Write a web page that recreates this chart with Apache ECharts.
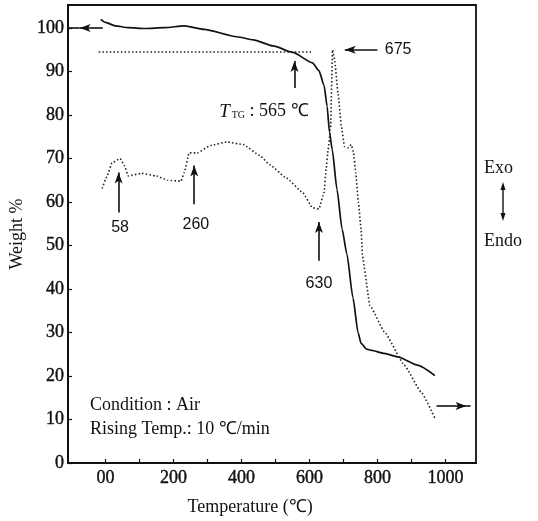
<!DOCTYPE html>
<html><head><meta charset="utf-8">
<script src="https://cdn.jsdelivr.net/npm/echarts@6/dist/echarts.min.js"></script>
<style>html,body{margin:0;padding:0;background:#fff}#c{width:538px;height:521px}</style>
</head><body><div id="c"></div>
<script>
// ---- data ----
const tgTemp = [-14, 0, 29, 67, 116, 174, 232, 290, 386, 435, 493, 551, 609, 628, 643, 652, 659, 667, 681, 696, 710, 728, 743, 752, 768, 783, 820, 860, 918, 969];
const tgWeight = [102.0, 101.3, 100.5, 100.1, 99.9, 100.1, 100.5, 99.7, 98.0, 97.3, 95.9, 94.4, 92.0, 90.2, 86.8, 82.0, 76.0, 72.1, 62.9, 53.8, 48.1, 38.0, 30.0, 27.5, 26.2, 25.9, 25.2, 24.4, 22.5, 20.1];
const dtaTemp = [-10, 5, 19, 43, 56, 67, 106, 150, 183, 222, 232, 246, 270, 309, 357, 406, 454, 483, 531, 580, 609, 628, 643, 649, 655, 662, 668, 674, 684, 694, 703, 715, 723, 730, 736, 744, 752, 756, 778, 821, 879, 928, 969];
const dtaSignal = [63.1, 66.0, 69.0, 70.0, 68.3, 66.0, 66.6, 66.0, 65.0, 64.8, 66.8, 71.3, 71.3, 73.0, 73.8, 73.2, 70.7, 68.6, 65.6, 62.2, 58.7, 58.4, 62.2, 67.5, 72.1, 76.7, 95.0, 92.7, 85.1, 77.4, 72.8, 72.5, 73.2, 71.3, 66.8, 59.9, 53.8, 47.5, 36.2, 30.1, 22.5, 16.4, 10.3];
const baselineTemp = [-20, 609];
const baselineLevel = [94.5, 94.5];
const xLabelValues = [0, 200, 400, 600, 800, 1000];
const xLabelTexts = ['00', '200', '400', '600', '800', '1000'];
const xTickValues = [0, 100, 200, 300, 400, 500, 600, 700, 800, 900, 1000];
// arrows: [x1, y1, x2, y2] head at (x2, y2)
const arrows = [[-8, 100, -76, 100], [974, 13.1, 1062, 13.1], [800, 95, 704, 95], [556, 86.2, 556, 92.4], [38.6, 57.6, 38.6, 66.8], [261, 59.5, 261, 68.4], [628, 46.5, 628, 55.4]];
const plainLines = [[-76, 100, -110, 100], [1062, 13.1, 1074, 13.1]];
const peakLabels = ['675', '58', '260', '630'];
const peakLabelAt = [[861, 95], [43, 54.2], [266, 54.9], [628, 41.2]];
const tgOnsetAt = [466, 80.8];

const zip = (a, b) => a.map((v, i) => [v, b[i]]);
const serif = 'Liberation Serif';
const sans = 'Liberation Sans';

const markLines = arrows.map(a => [
  { coord: [a[0], a[1]], symbol: 'none' },
  { coord: [a[2], a[3]], symbol: 'arrow', symbolSize: [6, 11] }
]).concat(plainLines.map(a => [
  { coord: [a[0], a[1]], symbol: 'none' },
  { coord: [a[2], a[3]], symbol: 'none' }
]));

const markPts = peakLabels.map((t, i) => ({
  coord: peakLabelAt[i], value: t,
  label: { formatter: t, fontFamily: sans, fontSize: 16, color: '#111' }
})).concat([{
  coord: tgOnsetAt, value: 'T',
  label: {
    formatter: '{i|T}{s|TG}{n| : 565 ℃}',
    rich: {
      i: { fontFamily: serif, fontStyle: 'italic', fontSize: 19, color: '#111' },
      s: { fontFamily: serif, fontSize: 10, color: '#111', padding: [7, 0, 0, 2] },
      n: { fontFamily: serif, fontSize: 18, color: '#111' }
    }
  }
}]);

const tickFont = { fontFamily: serif, fontSize: 18, color: '#111', textBorderColor: '#111', textBorderWidth: 0.4 };

const chart = echarts.init(document.getElementById('c'), null, { renderer: 'canvas' });
chart.setOption({
  animation: false,
  backgroundColor: '#fff',
  grid: { left: 62, right: 62, top: 5, bottom: 56, show: true, borderColor: '#111', borderWidth: 1.8, backgroundColor: 'transparent' },
  xAxis: {
    type: 'value', min: -110, max: 1090,
    name: 'Temperature (℃)', nameLocation: 'middle', nameGap: 35,
    nameTextStyle: { fontFamily: serif, fontSize: 18, color: '#111', padding: [0, 44, 0, 0] },
    axisLine: { show: true, onZero: false, lineStyle: { color: '#111', width: 2 } },
    axisTick: { show: true, inside: true, length: 4, customValues: xTickValues, lineStyle: { color: '#111', width: 1.2 } },
    axisLabel: Object.assign({ customValues: xLabelValues, formatter: v => xLabelTexts[xLabelValues.indexOf(v)], margin: 6 }, tickFont),
    splitLine: { show: false }
  },
  yAxis: {
    type: 'value', min: 0, max: 105.3, interval: 10,
    name: 'Weight %', nameLocation: 'middle', nameGap: 35,
    nameTextStyle: { fontFamily: serif, fontSize: 18, color: '#111' },
    axisLine: { show: true, onZero: false, lineStyle: { color: '#111', width: 2 } },
    axisTick: { show: true, inside: true, length: 4, lineStyle: { color: '#111', width: 1.2 } },
    axisLabel: Object.assign({ margin: 4, showMaxLabel: false }, tickFont),
    splitLine: { show: false }
  },
  series: [
    {
      type: 'line', name: 'TG', data: zip(tgTemp, tgWeight), showSymbol: false,
      smooth: 0.2, smoothMonotone: 'x', clip: false,
      lineStyle: { color: '#111', width: 1.7 },
      markLine: { silent: true, animation: false, label: { show: false }, lineStyle: { color: '#111', width: 1.6, type: 'solid' }, data: markLines },
      markPoint: { silent: true, animation: false, symbol: 'circle', symbolSize: 1, itemStyle: { color: 'rgba(0,0,0,0)' }, label: { show: true, position: 'inside' }, data: markPts }
    },
    {
      type: 'line', name: 'DTA', data: zip(dtaTemp, dtaSignal), showSymbol: false,
      smooth: 0.12, smoothMonotone: 'x', clip: false,
      lineStyle: { color: '#222', width: 1.6, type: [1.5, 2.2] }
    },
    {
      type: 'line', name: 'baseline', data: zip(baselineTemp, baselineLevel), showSymbol: false,
      lineStyle: { color: '#222', width: 1.6, type: [1.5, 2.2] }
    }
  ],
  graphic: [
    { type: 'text', left: 484, top: 159, style: { text: 'Exo', font: '18px "Liberation Serif"', fill: '#111' } },
    { type: 'text', left: 484, top: 232, style: { text: 'Endo', font: '18px "Liberation Serif"', fill: '#111' } },
    { type: 'line', shape: { x1: 503, y1: 185, x2: 503, y2: 218 }, style: { stroke: '#111', lineWidth: 1.4 } },
    { type: 'polygon', shape: { points: [[503, 182], [500.5, 190], [505.5, 190]] }, style: { fill: '#111' } },
    { type: 'polygon', shape: { points: [[503, 221], [500.5, 213], [505.5, 213]] }, style: { fill: '#111' } },
    { type: 'text', left: 90, top: 396, style: { text: 'Condition : Air', font: '18px "Liberation Serif"', fill: '#111' } },
    { type: 'text', left: 90, top: 420, style: { text: 'Rising Temp.: 10 ℃/min', font: '18px "Liberation Serif"', fill: '#111' } }
  ]
});
</script>
</body></html>
